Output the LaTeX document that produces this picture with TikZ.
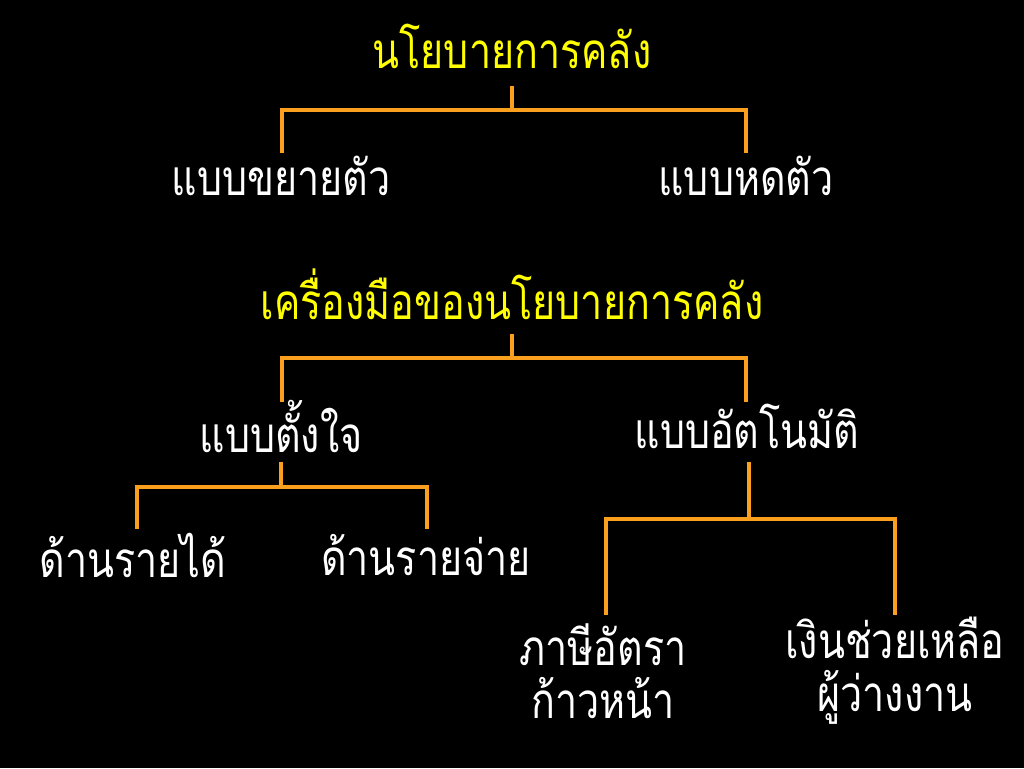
\documentclass[tikz,border=0pt]{standalone}
\usepackage{fontspec}
\newfontfamily\thaifont[Script=Thai,FakeStretch=0.8]{Loma}
\definecolor{lineorange}{RGB}{250,160,30}
\definecolor{titleyellow}{RGB}{255,255,0}
\tikzset{
  title/.style={text=titleyellow,font=\thaifont\fontsize{37}{44}\selectfont,inner sep=0pt,anchor=center},
  item/.style={text=white,font=\thaifont\fontsize{37}{44}\selectfont,inner sep=0pt,anchor=center,align=center},
  conn/.style={draw=lineorange,line width=2.8pt}
}
\begin{document}
\begin{tikzpicture}[x=0.75pt,y=-0.75pt]
\fill[black] (0,0) rectangle (1024,768);
\useasboundingbox (0,0) rectangle (1024,768);
% first tree
\node[title] (t1) at (512,46) {นโยบายการคลัง};
\node[item] (a1) at (281,176) {แบบขยายตัว};
\node[item] (a2) at (746,176) {แบบหดตัว};
\coordinate (t1b) at (512,86);
\coordinate (t1h) at (512,110);
\coordinate (a1t) at (282,153);
\coordinate (a2t) at (746,153);
\draw[conn] (t1b) -- (t1h);
\draw[conn] (a1t) |- (t1h) -| (a2t);
% second tree
\node[title] (t2) at (512,294) {เครื่องมือของนโยบายการคลัง};
\node[item] (b1) at (281,426) {แบบตั้งใจ};
\node[item] (b2) at (747,426) {แบบอัตโนมัติ};
\coordinate (t2b) at (512,334);
\coordinate (t2h) at (512,358);
\coordinate (b1t) at (282,402);
\coordinate (b2t) at (746,402);
\draw[conn] (t2b) -- (t2h);
\draw[conn] (b1t) |- (t2h) -| (b2t);
% left sub-tree
\node[item] (c1) at (133,555) {ด้านรายได้};
\node[item] (c2) at (426,555) {ด้านรายจ่าย};
\coordinate (b1b) at (281,462);
\coordinate (b1h) at (281,487);
\coordinate (c1t) at (137,529);
\coordinate (c2t) at (427,529);
\draw[conn] (b1b) -- (b1h);
\draw[conn] (c1t) |- (b1h) -| (c2t);
% right sub-tree
\node[item] (d1) at (603,671) {ภาษีอัตรา\\[-4pt]ก้าวหน้า};
\node[item] (d2) at (895,671) {เงินช่วยเหลือ\\[-4pt]ผู้ว่างงาน};
\coordinate (b2b) at (749,462);
\coordinate (b2h) at (749,519);
\coordinate (d1t) at (606,615);
\coordinate (d2t) at (895,615);
\draw[conn] (b2b) -- (b2h);
\draw[conn] (d1t) |- (b2h) -| (d2t);
\end{tikzpicture}
\end{document}
